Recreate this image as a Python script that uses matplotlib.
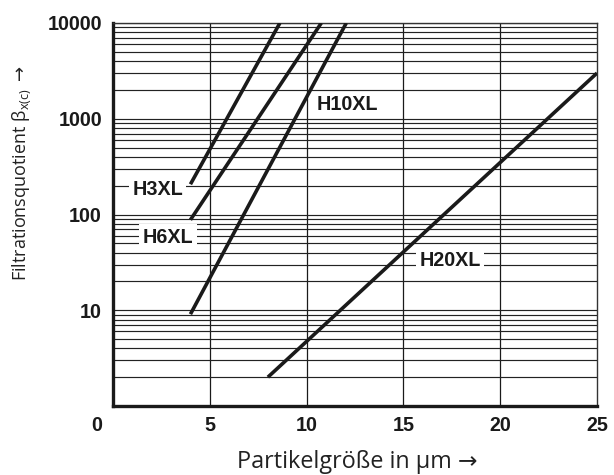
import numpy as np
import matplotlib
matplotlib.use("Agg")
import matplotlib.pyplot as plt
from matplotlib.transforms import ScaledTranslation

# values (x in µm, y = beta ratio, log scale)
filters = ["H3XL", "H6XL", "H10XL", "H20XL"]
x_start = [4.0, 4.0, 4.0, 8.0]
x_end = [8.62, 10.76, 12.05, 25.0]
beta_start = [207, 88, 9.1, 2.0]
beta_end = [10000, 10000, 10000, 3000]

# label anchor points (data coords)
label_x = [2.3, 2.85, 12.1, 17.4]
label_y = [184, 58, 1400, 33]

x_ticks = [0, 5, 10, 15, 20, 25]
y_ticks = [10, 100, 1000, 10000]

bold_font = ["Liberation Sans", "DejaVu Sans"]
text_font = ["Open Sans", "DejaVu Sans"]
ink = "#1a1a1a"

fig = plt.figure(figsize=(6.14, 4.75), dpi=100)
ax = fig.add_axes([113 / 614, 69 / 475, 484 / 614, 383 / 475])
ax.set_yscale("log")
ax.set_xlim(0, 25)
ax.set_ylim(1, 10000)

# grid
ax.set_yticks(y_ticks)
ax.set_yticklabels([str(t) for t in y_ticks])
ax.yaxis.set_minor_locator(matplotlib.ticker.LogLocator(base=10, subs=np.arange(2, 10)))
ax.yaxis.set_minor_formatter(matplotlib.ticker.NullFormatter())
ax.grid(axis="y", which="both", color="#222222", lw=0.85)
for xv in x_ticks[1:-1]:
    ax.axvline(xv, color="#1a1a1a", lw=0.9, zorder=1)

ax.set_xticks(x_ticks)
ax.set_xticklabels([str(t) for t in x_ticks])
ax.tick_params(which="both", length=0)
ax.tick_params(axis="x", pad=7)
ax.tick_params(axis="y", pad=8)
for lab in ax.get_xticklabels() + ax.get_yticklabels():
    lab.set_fontfamily(bold_font)
    lab.set_fontweight("bold")
    lab.set_fontsize(14.2)
    lab.set_color(ink)
# the "0" sits left of the axis corner
ax.get_xticklabels()[0].set_transform(
    ax.get_xticklabels()[0].get_transform() + ScaledTranslation(-16 / 100, 0, fig.dpi_scale_trans))

for side in ["left", "bottom"]:
    ax.spines[side].set_linewidth(2.4)
    ax.spines[side].set_color(ink)
for side in ["top", "right"]:
    ax.spines[side].set_linewidth(1.0)
    ax.spines[side].set_color("#333333")

for i, name in enumerate(filters):
    ax.plot([x_start[i], x_end[i]], [beta_start[i], beta_end[i]], color=ink, lw=2.6,
            solid_capstyle="butt", zorder=3, clip_on=True)
    ax.text(label_x[i], label_y[i], name, fontfamily=bold_font, fontweight="bold",
            fontsize=14.2, color=ink, ha="center", va="center", zorder=4,
            bbox=dict(facecolor="white", edgecolor="none", pad=2.5))

fig.text(357 / 614, 1 - 468 / 475, "Partikelgröße in µm →", fontfamily=text_font,
         fontsize=16.8, color="#222222", ha="center", va="baseline")
fig.text(22 / 614, 1 - 173 / 475, "Filtrationsquotient β$_{\\mathregular{x(c)}}$ $\\rightarrow$",
         fontfamily=text_font, fontsize=13, color="#222222", ha="center", va="center",
         rotation=90)

fig.savefig("out.png", dpi=100)
